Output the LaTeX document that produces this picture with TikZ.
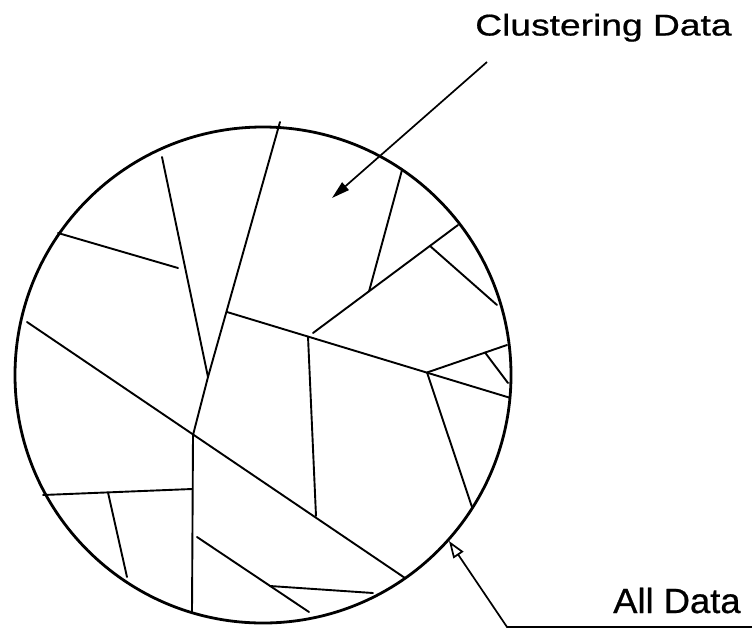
\documentclass[tikz,border=0pt]{standalone}
\usepackage{fontspec}
\setmainfont{Liberation Sans}
\newfontfamily\lblfont[FakeBold=0.6]{Liberation Sans}
\usetikzlibrary{arrows.meta}
\tikzset{
  rim/.style={line width=2.8pt},
  cut/.style={line width=1.9pt, line cap=round},
  leader/.style={line width=1.7pt},
  lbl/.style={inner sep=0pt, anchor=base west}
}
\begin{document}
\begin{tikzpicture}[x=1pt,y=-1pt]
\useasboundingbox[fill=white] (0,0) rectangle (752,630);
% circle
\coordinate (ctr) at (263,375);
\draw[rim] (ctr) circle[radius=248];
% junctions
\coordinate (t1) at (280,122);
\coordinate (t2) at (162,157);
\coordinate (J1) at (208,377);
\coordinate (J2) at (193,435);
\coordinate (b1) at (192,612);
\coordinate (l1) at (58,233);
\coordinate (l2) at (178,268);
\coordinate (J3) at (227,312);
\coordinate (J4) at (308,336.5);
\coordinate (J5) at (427,372.5);
\coordinate (r1) at (509,397.5);
\coordinate (v1) at (316,516);
\coordinate (u1) at (313,333);
\coordinate (J6) at (458,225);
\coordinate (t3) at (402,170);
\coordinate (J7) at (369,291.5);
\coordinate (J8) at (430,246);
\coordinate (r2) at (497,305);
\coordinate (r3) at (507,345);
\coordinate (m1) at (485,352.5);
\coordinate (r4) at (508,383);
\coordinate (r5) at (472,507);
\coordinate (d1) at (27,322);
\coordinate (d2) at (405,578);
\coordinate (h1) at (43,495);
\coordinate (J9) at (192,489);
\coordinate (h2) at (108,492.5);
\coordinate (h3) at (127,577);
\coordinate (s1) at (197,537);
\coordinate (s2) at (309,612);
\coordinate (s3) at (270,586);
\coordinate (s4) at (373,593);
% partition lines
\draw[cut] (t1) -- (J1);
\draw[cut] (t2) -- (J1);
\draw[cut] (J1) -- (J2);
\draw[cut] (J2) -- (b1);
\draw[cut] (l1) -- (l2);
\draw[cut] (J3) -- (r1);
\draw[cut] (J4) -- (v1);
\draw[cut] (u1) -- (J6);
\draw[cut] (t3) -- (J7);
\draw[cut] (J8) -- (r2);
\draw[cut] (J5) -- (r3);
\draw[cut] (m1) -- (r4);
\draw[cut] (J5) -- (r5);
\draw[cut] (d1) -- (d2);
\draw[cut] (h1) -- (J9);
\draw[cut] (h2) -- (h3);
\draw[cut] (s1) -- (s2);
\draw[cut] (s3) -- (s4);
% labels
\node[lbl, font=\lblfont\fontsize{30}{30}\selectfont, xscale=1.24] (cd) at (475,35.5) {Clustering Data};
\node[lbl, font=\lblfont\fontsize{35}{35}\selectfont, xscale=1.04] (ad) at (613,613) {All Data};
% leaders
\coordinate (a1) at (487,62);
\coordinate (a2) at (332,198);
\draw[leader, -{Triangle[length=18pt,width=10pt]}] (a1) -- (a2);
\coordinate (k1) at (752,627);
\coordinate (k2) at (507,627);
\coordinate (k3) at (449,541);
\draw[leader, -{Triangle[open,length=17pt,width=12pt]}] (k1) -- (k2) -- (k3);
\end{tikzpicture}
\end{document}
